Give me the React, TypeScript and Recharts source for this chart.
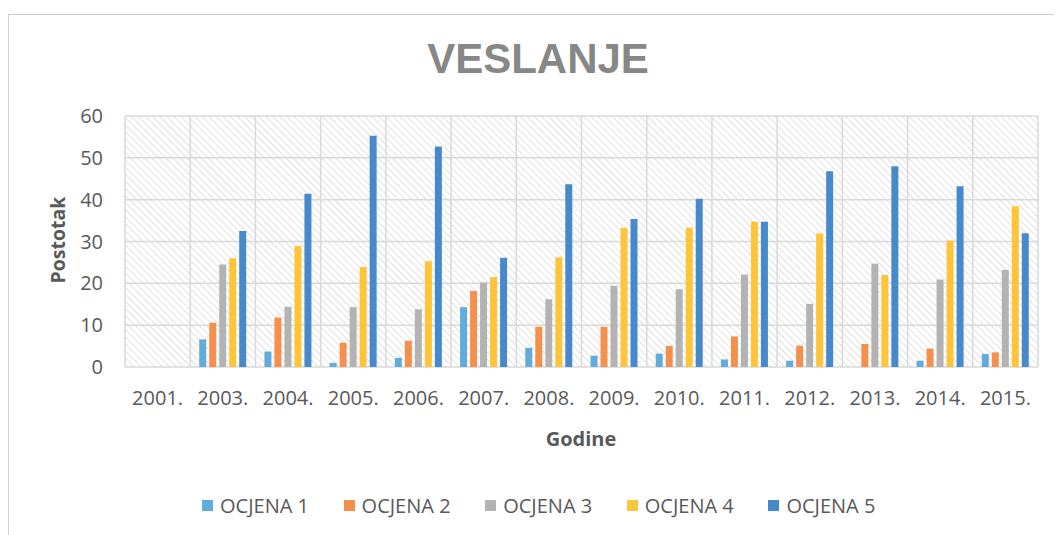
import React from "react"
import { BarChart, Bar, XAxis, YAxis, CartesianGrid, Legend, Customized } from "recharts"

const years = ["2001.", "2003.", "2004.", "2005.", "2006.", "2007.", "2008.", "2009.", "2010.", "2011.", "2012.", "2013.", "2014.", "2015."]
const ocjena1 = [0, 6.6, 3.7, 1.0, 2.2, 14.3, 4.6, 2.7, 3.2, 1.8, 1.5, 0, 1.5, 3.1]
const ocjena2 = [0, 10.6, 11.8, 5.8, 6.3, 18.2, 9.6, 9.6, 5.0, 7.3, 5.1, 5.5, 4.4, 3.5]
const ocjena3 = [0, 24.5, 14.4, 14.3, 13.8, 20.2, 16.2, 19.4, 18.6, 22.1, 15.1, 24.7, 20.9, 23.2]
const ocjena4 = [0, 26.0, 28.9, 23.9, 25.3, 21.5, 26.2, 33.3, 33.3, 34.7, 31.9, 22.0, 30.2, 38.4]
const ocjena5 = [0, 32.5, 41.4, 55.3, 52.7, 26.1, 43.7, 35.4, 40.2, 34.7, 46.8, 48.0, 43.2, 32.0]
const yTicks = [0, 10, 20, 30, 40, 50, 60]

const series = [
  { key: "o1", name: "OCJENA 1", color: "#62acdc" },
  { key: "o2", name: "OCJENA 2", color: "#f48f4c" },
  { key: "o3", name: "OCJENA 3", color: "#b3b3b3" },
  { key: "o4", name: "OCJENA 4", color: "#fec43a" },
  { key: "o5", name: "OCJENA 5", color: "#4789cb" },
]

const data = years.map((year, i) => ({
  year,
  o1: ocjena1[i],
  o2: ocjena2[i],
  o3: ocjena3[i],
  o4: ocjena4[i],
  o5: ocjena5[i],
}))

const font = "'Open Sans', sans-serif"
const textColor = "#595959"
const gridColor = "#d9d9d9"

function Titles() {
  return (
    <g fontFamily={font}>
      <text x={530} y={65} textAnchor="middle" fontSize={42} fontWeight="bold" fill="#878787"
        style={{ fontFamily: "'Liberation Sans', Arial, sans-serif" }}>
        VESLANJE
      </text>
      <text x={49} y={232} transform="rotate(-90 49 232)" textAnchor="middle" dominantBaseline="central"
        fontSize={19.5} fontWeight="bold" fill={textColor}>
        Postotak
      </text>
      <text x={573} y={430} textAnchor="middle" dominantBaseline="central" fontSize={20} fontWeight="bold" fill={textColor}>
        Godine
      </text>
    </g>
  )
}

function LegendContent(props: any) {
  const items = props.payload || []
  return (
    <div style={{ display: "flex", fontFamily: font, fontSize: 20, color: textColor }}>
      {items.map((item: any) => (
        <div key={item.value} style={{ width: 141.6, display: "flex", alignItems: "center", height: 24, whiteSpace: "nowrap" }}>
          <span style={{ width: 11, height: 11, background: item.color, marginRight: 7, display: "inline-block", flexShrink: 0 }} />
          <span>{item.value}</span>
        </div>
      ))}
    </div>
  )
}

export default function App() {
  return (
    <div style={{ position: "relative", width: 1054, height: 527, overflow: "hidden", background: "#fff" }}>
      <svg width={0} height={0} style={{ position: "absolute" }}>
        <defs>
          <pattern id="hatch" patternUnits="userSpaceOnUse" width={5} height={5} patternTransform="rotate(-45)">
            <line x1={0} y1={0} x2={0} y2={5} stroke="#dedede" strokeWidth={1.8} />
          </pattern>
        </defs>
      </svg>
      <div
        style={{
          position: "absolute",
          left: 0,
          top: 6,
          width: 1200,
          height: 700,
          borderLeft: "1px solid #d0d0d0",
          borderTop: "1px solid #d0d0d0",
        }}
      />
      <div style={{ position: "absolute", left: 0, top: 0 }}>
        <BarChart
          width={1054}
          height={527}
          data={data}
          margin={{ top: 108, right: 24, bottom: 128, left: 57 }}
          barGap={3}
        >
          <CartesianGrid
            stroke={gridColor}
            strokeWidth={1.5}
            fill="url(#hatch)"
            fillOpacity={1}
            horizontalValues={yTicks}
            verticalCoordinatesGenerator={({ offset }: any) =>
              years.map((_, i) => offset.left + (i * offset.width) / years.length).concat(offset.left + offset.width)
            }
          />
          <XAxis
            dataKey="year"
            axisLine={false}
            tickLine={false}
            tickSize={0}
            tickMargin={24}
            height={40}
            interval={0}
            tick={{ fill: textColor, fontSize: 20, fontFamily: font }}
          />
          <YAxis
            domain={[0, 60]}
            ticks={yTicks}
            axisLine={false}
            tickLine={false}
            tickSize={0}
            tickMargin={22}
            width={60}
            tick={{ fill: textColor, fontSize: 20, fontFamily: font }}
          />
          {series.map((s) => (
            <Bar key={s.key} dataKey={s.key} name={s.name} fill={s.color} barSize={7} isAnimationActive={false} />
          ))}
          <Legend
            layout="horizontal"
            verticalAlign="middle"
            align="center"
            content={<LegendContent />}
            wrapperStyle={{ top: 485, left: 194, width: 710 }}
          />
          <Customized component={<Titles />} />
        </BarChart>
      </div>
    </div>
  )
}
